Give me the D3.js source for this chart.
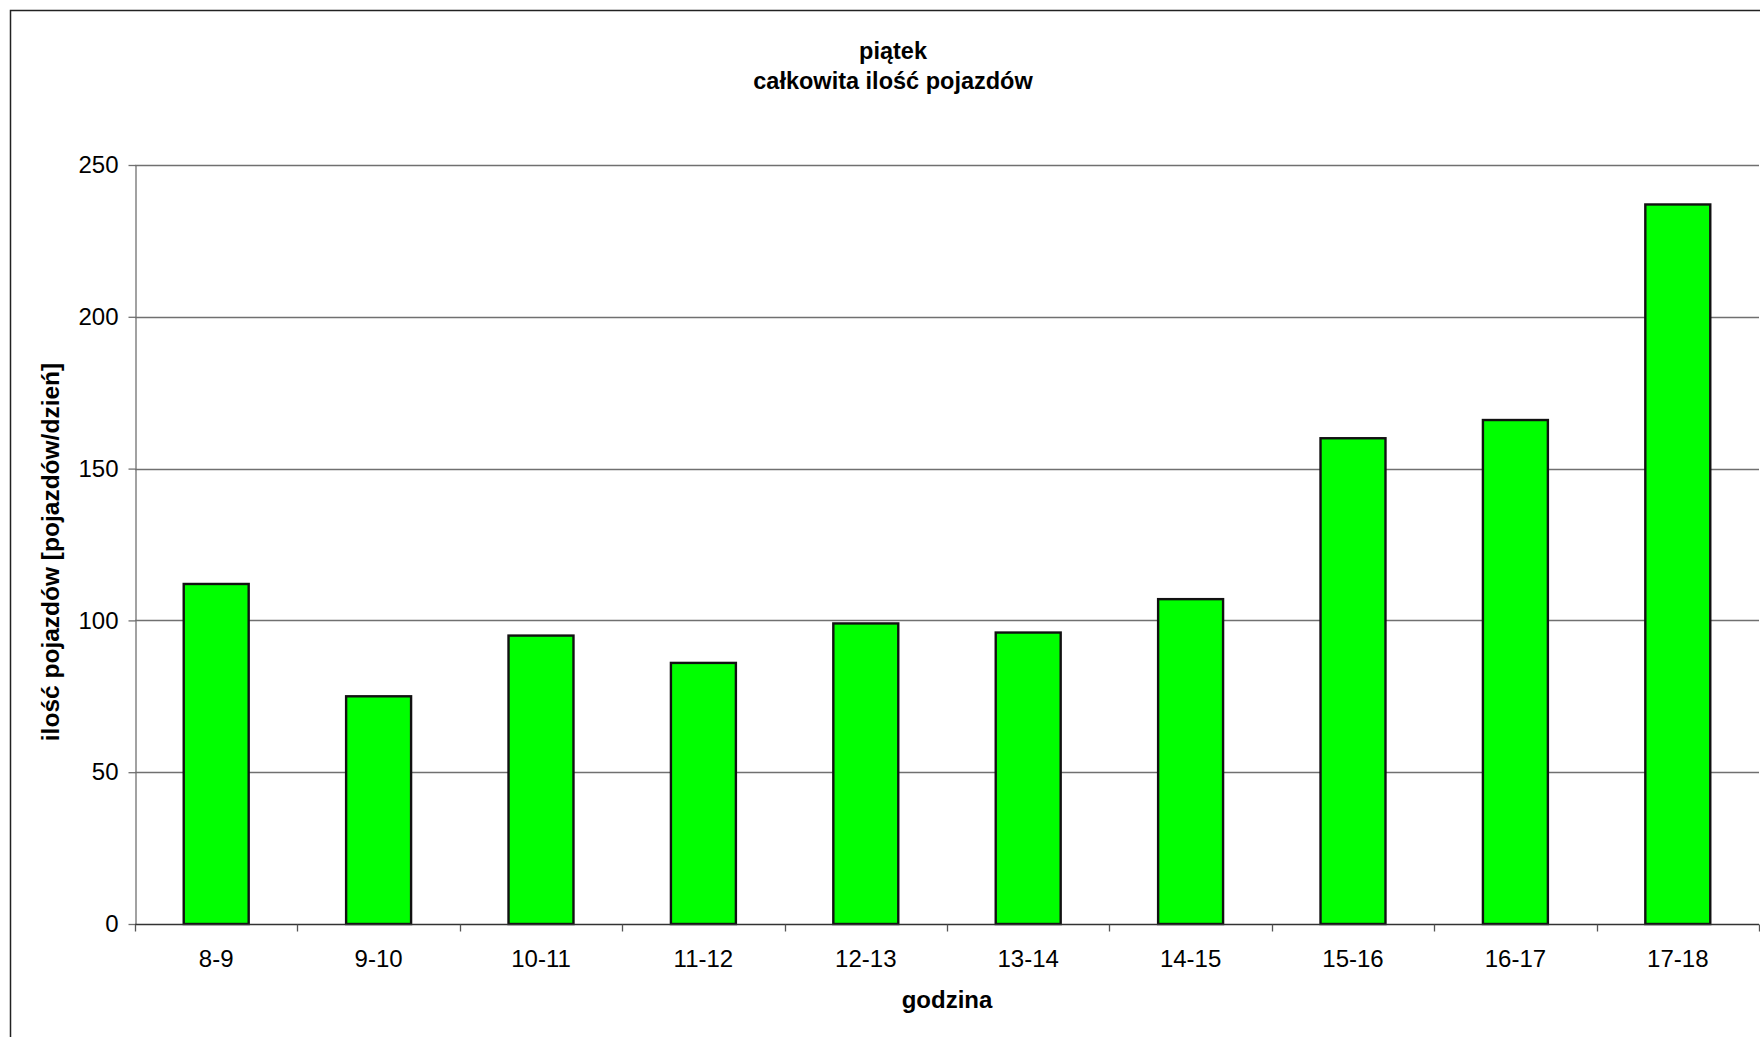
<!DOCTYPE html>
<html>
<head>
<meta charset="utf-8">
<script src="https://cdn.jsdelivr.net/npm/d3@7"></script>
<style>
  html, body { margin: 0; padding: 0; background: #fff; }
  svg { display: block; font-family: "Liberation Sans", Arial, sans-serif; }
</style>
</head>
<body>
<svg id="chart" width="1760" height="1037"></svg>
<script>
// Hourly vehicle counts for Friday
const hours = ["8-9", "9-10", "10-11", "11-12", "12-13", "13-14", "14-15", "15-16", "16-17", "17-18"];
const vehicles = [112, 75, 95, 86, 99, 96, 107, 160, 166, 237];
const yTicks = [0, 50, 100, 150, 200, 250];
const titleLines = ["piątek", "całkowita ilość pojazdów"];
const xTitle = "godzina";
const yTitle = "ilość pojazdów [pojazdów/dzień]";

const svg = d3.select("#chart");
const W = 1760, H = 1037;
const plot = { left: 135, right: 1759, top: 165, bottom: 924 };

// outer chart frame (runs off the right and bottom edges)
svg.append("rect")
  .attr("x", 10.5).attr("y", 10.5)
  .attr("width", W + 20).attr("height", H + 20)
  .attr("fill", "#fff").attr("stroke", "#222").attr("stroke-width", 1.5);

const x = d3.scaleBand().domain(hours).range([plot.left, plot.right]).paddingInner(0.6).paddingOuter(0.3);
const xOuter = d3.scaleBand().domain(hours).range([plot.left, plot.right]).padding(0);
const y = d3.scaleLinear().domain([0, 250]).range([plot.bottom, plot.top]);

// horizontal gridlines
svg.append("g")
  .selectAll("line")
  .data(yTicks.filter(t => t > 0))
  .join("line")
  .attr("x1", plot.left).attr("x2", plot.right)
  .attr("y1", d => Math.round(y(d)) + 0.5).attr("y2", d => Math.round(y(d)) + 0.5)
  .attr("stroke", "#707070").attr("stroke-width", 1.3);

// y axis
const yAxis = svg.append("g")
  .attr("transform", `translate(${plot.left + 0.5},0)`)
  .call(d3.axisLeft(y).tickValues(yTicks).tickSize(7).tickPadding(10).tickSizeOuter(0));
yAxis.select(".domain").attr("stroke", "#707070").attr("stroke-width", 1.3);
yAxis.selectAll(".tick line").attr("stroke", "#707070").attr("stroke-width", 1.3);
yAxis.selectAll(".tick text")
  .attr("font-size", 24).attr("fill", "#000")
  .attr("font-family", "'Liberation Sans', Arial, sans-serif");

// bars
svg.append("g")
  .selectAll("rect")
  .data(hours.map((h, i) => ({ h, v: vehicles[i] })))
  .join("rect")
  .attr("x", d => x(d.h))
  .attr("y", d => y(d.v))
  .attr("width", x.bandwidth())
  .attr("height", d => y(0) - y(d.v))
  .attr("fill", "#00ff00")
  .attr("stroke", "#111")
  .attr("stroke-width", 2.4);

// x axis with ticks between categories
const xAxisG = svg.append("g").attr("transform", `translate(0,${plot.bottom + 0.5})`);
xAxisG.append("line")
  .attr("x1", plot.left).attr("x2", plot.right)
  .attr("stroke", "#333").attr("stroke-width", 1.3);
const boundaries = hours.map(h => xOuter(h)).concat([xOuter(hours[hours.length - 1]) + xOuter.bandwidth()]);
xAxisG.selectAll("line.tk")
  .data(boundaries)
  .join("line")
  .attr("class", "tk")
  .attr("x1", d => Math.round(d) + 0.5).attr("x2", d => Math.round(d) + 0.5)
  .attr("y1", 0).attr("y2", 7)
  .attr("stroke", "#555").attr("stroke-width", 1.3);
xAxisG.selectAll("text")
  .data(hours)
  .join("text")
  .attr("x", d => xOuter(d) + xOuter.bandwidth() / 2)
  .attr("y", 42)
  .attr("text-anchor", "middle")
  .attr("font-size", 24)
  .attr("fill", "#000")
  .text(d => d);

// titles
svg.append("text")
  .attr("x", 893).attr("text-anchor", "middle")
  .attr("font-size", 23.5).attr("font-weight", "bold")
  .selectAll("tspan")
  .data(titleLines)
  .join("tspan")
  .attr("x", 893)
  .attr("y", (d, i) => 59 + i * 30)
  .text(d => d);

svg.append("text")
  .attr("x", (plot.left + plot.right) / 2)
  .attr("y", 1008)
  .attr("text-anchor", "middle")
  .attr("font-size", 24).attr("font-weight", "bold")
  .text(xTitle);

svg.append("text")
  .attr("transform", `translate(59,552) rotate(-90)`)
  .attr("text-anchor", "middle")
  .attr("font-size", 24.5).attr("font-weight", "bold")
  .text(yTitle);
</script>
</body>
</html>
